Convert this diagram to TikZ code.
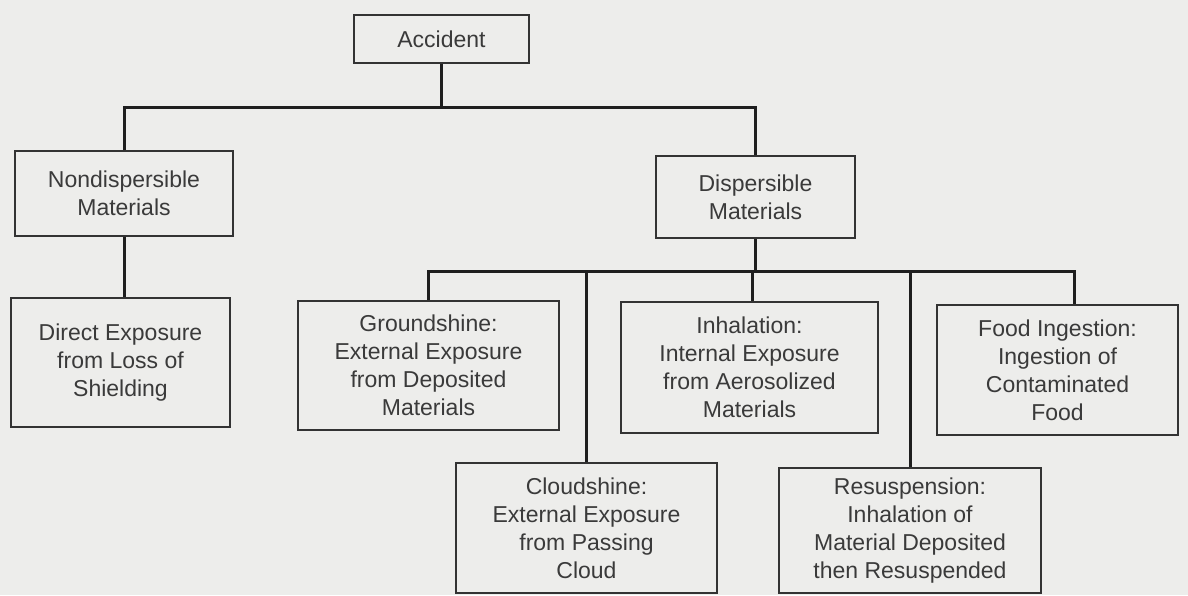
\documentclass[tikz,border=0pt]{standalone}
\usepackage{fontspec}
\setmainfont{Liberation Sans}
\definecolor{bgc}{HTML}{EDEDEB}
\definecolor{boxc}{HTML}{333333}
\definecolor{linec}{HTML}{1E1E1E}
\definecolor{txtc}{HTML}{3A3A3A}
\begin{document}
\begin{tikzpicture}[x=1pt,y=-1pt,
  box/.style={draw=boxc, line width=1.8pt, align=center, inner sep=0pt,
    text=txtc, font=\fontsize{23}{28}\selectfont},
  conn/.style={draw=linec, line width=3pt, line join=miter}]
\fill[bgc] (0,0) rectangle (1188,595);
\useasboundingbox (0,0) rectangle (1188,595);
% nodes
\node[box, minimum width=175pt, minimum height=48pt] (acc) at (441.5,39) {Accident};
\node[box, minimum width=218pt, minimum height=85pt] (nd) at (124,193.5) {Nondispersible\\Materials};
\node[box, minimum width=199pt, minimum height=82pt] (disp) at (755.5,197) {Dispersible\\Materials};
\node[box, minimum width=219pt, minimum height=129pt] (dir) at (120.5,362.5) {Direct Exposure\\from Loss of\\Shielding};
\node[box, minimum width=261pt, minimum height=129pt] (gr) at (428.5,365.5) {Groundshine:\\External Exposure\\from Deposited\\Materials};
\node[box, minimum width=257pt, minimum height=131pt] (inh) at (749.5,367.5) {Inhalation:\\Internal Exposure\\from Aerosolized\\Materials};
\node[box, minimum width=241pt, minimum height=130pt] (food) at (1057.5,370) {Food Ingestion:\\Ingestion of\\Contaminated\\Food};
\node[box, minimum width=261pt, minimum height=130pt] (cl) at (586.5,528) {Cloudshine:\\External Exposure\\from Passing\\Cloud};
\node[box, minimum width=262pt, minimum height=125pt] (rs) at (910,530.5) {Resuspension:\\Inhalation of\\Material Deposited\\then Resuspended};
% buses
\coordinate (busA) at (0,107);
\coordinate (busB) at (0,271);
% connectors
\draw[conn] (acc.south) -- (acc.south |- busA);
\draw[conn] (nd.north) |- (disp.north |- busA) -- (disp.north);
\draw[conn] (nd.south) -- (nd.south |- dir.north);
\draw[conn] (disp.south) -- (disp.south |- busB);
\draw[conn] (gr.north) |- ([xshift=16.5pt]food.north |- busB) -- ([xshift=16.5pt]food.north);
\draw[conn] ([xshift=3pt]inh.north) -- ([xshift=3pt]inh.north |- busB);
\draw[conn] (cl.north) -- (cl.north |- busB);
\draw[conn] (rs.north) -- (rs.north |- busB);
\end{tikzpicture}
\end{document}
